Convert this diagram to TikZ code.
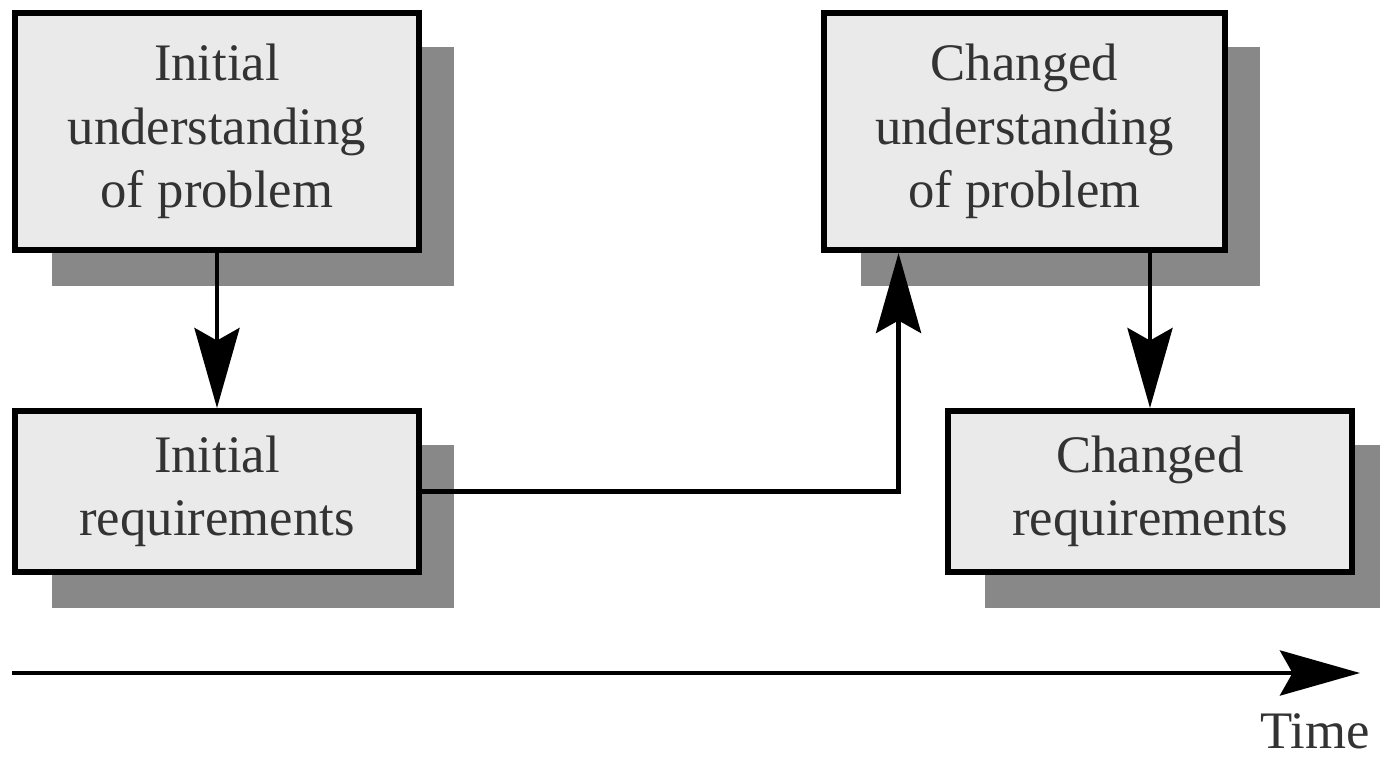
\documentclass[tikz,border=0pt]{standalone}
\usepackage{fontspec}
\setmainfont{Liberation Serif}
\usetikzlibrary{arrows.meta,backgrounds,calc}
\definecolor{shadowgray}{HTML}{888888}
\definecolor{boxfill}{HTML}{EAEAEA}
\tikzset{
  box/.style={draw=black, line width=3.4pt, fill=boxfill, align=center,
    text=black!80, inner sep=0pt,
    font=\fontsize{30}{36}\selectfont},
  arr/.style={line width=2.8pt, -{Stealth[length=1.6cm, width=0.9cm, inset=0.25cm]}},
  shadowbox/.style={fill=shadowgray}
}
\begin{document}
\begin{tikzpicture}[x=0.02cm,y=-0.02cm]
\useasboundingbox (0,0) rectangle (1380,764);
\node[box, minimum width=8.08cm, minimum height=4.74cm] (b1) at (217,131.5)
  {Initial\\understanding\\of problem};
\node[box, minimum width=8.08cm, minimum height=3.22cm] (b2) at (217,491.5)
  {Initial\\requirements};
\node[box, minimum width=8.04cm, minimum height=4.74cm] (b3) at (1024.5,131.5)
  {Changed\\understanding\\of problem};
\node[box, minimum width=8.08cm, minimum height=3.22cm] (b4) at (1150,491.5)
  {Changed\\requirements};
\begin{scope}[on background layer]
  \foreach \n in {b1,b2,b3,b4}{
    \fill[shadowgray] ([shift={(40,37)}]\n.north west) rectangle ([shift={(32,33)}]\n.south east);
  }
\end{scope}
\draw[arr] (b1) -- (b2);
\draw[arr] (b2.east) -| ([xshift=1.56cm]b3.south west);
\draw[arr] (b3.south -| b4.north) -- (b4.north);
\coordinate (t0) at (12,673);
\coordinate (t1) at (1360,673);
\draw[arr] (t0) -- (t1);
\node[anchor=base east, inner sep=0pt, text=black!80, font=\fontsize{30}{36}\selectfont] (time) at (1370,748) {Time};
\end{tikzpicture}
\end{document}
